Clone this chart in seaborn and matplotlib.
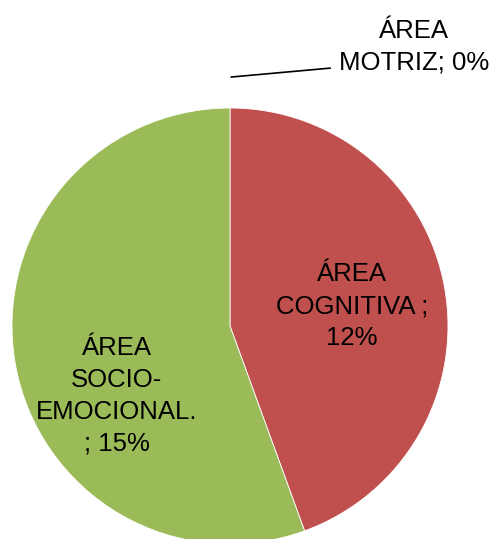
import matplotlib
matplotlib.use("Agg")
import matplotlib.pyplot as plt
import seaborn as sns

# datos del gráfico
areas = ["ÁREA\nMOTRIZ; 0%", "ÁREA\nCOGNITIVA ;\n12%", "ÁREA\nSOCIO-\nEMOCIONAL.\n; 15%"]
valores = [0, 12, 15]
colores = ["#4F81BD", "#C0504D", "#9BBB59"]

sns.set_theme(style="white")
plt.rcParams["font.family"] = ["Liberation Sans", "DejaVu Sans"]

fig = plt.figure(figsize=(4.96, 5.39), dpi=100)
ax = fig.add_axes([0, 0, 1, 1])

wedges, _ = ax.pie(valores, colors=colores, startangle=90, counterclock=False,
                   radius=1, wedgeprops=dict(edgecolor="white", linewidth=0.6))

# etiquetas (posición ajustada como en el original)
props = dict(ha="center", va="center", fontsize=18.5, linespacing=1.42, color="black")
ax.text(0.56, 0.09, areas[1], **props)
ax.text(-0.52, -0.32, areas[2], **props)
ax.text(0.845, 1.28, areas[0], **props)
ax.plot([0.005, 0.46], [1.142, 1.183], color="black", linewidth=1.2)

ax.set_xlim(-230 / 218, 266 / 218)
ax.set_ylim(-(539 - 326) / 218, 326 / 218)
ax.set_aspect("equal", adjustable="box")
ax.axis("off")

fig.savefig("out.png", dpi=100)
